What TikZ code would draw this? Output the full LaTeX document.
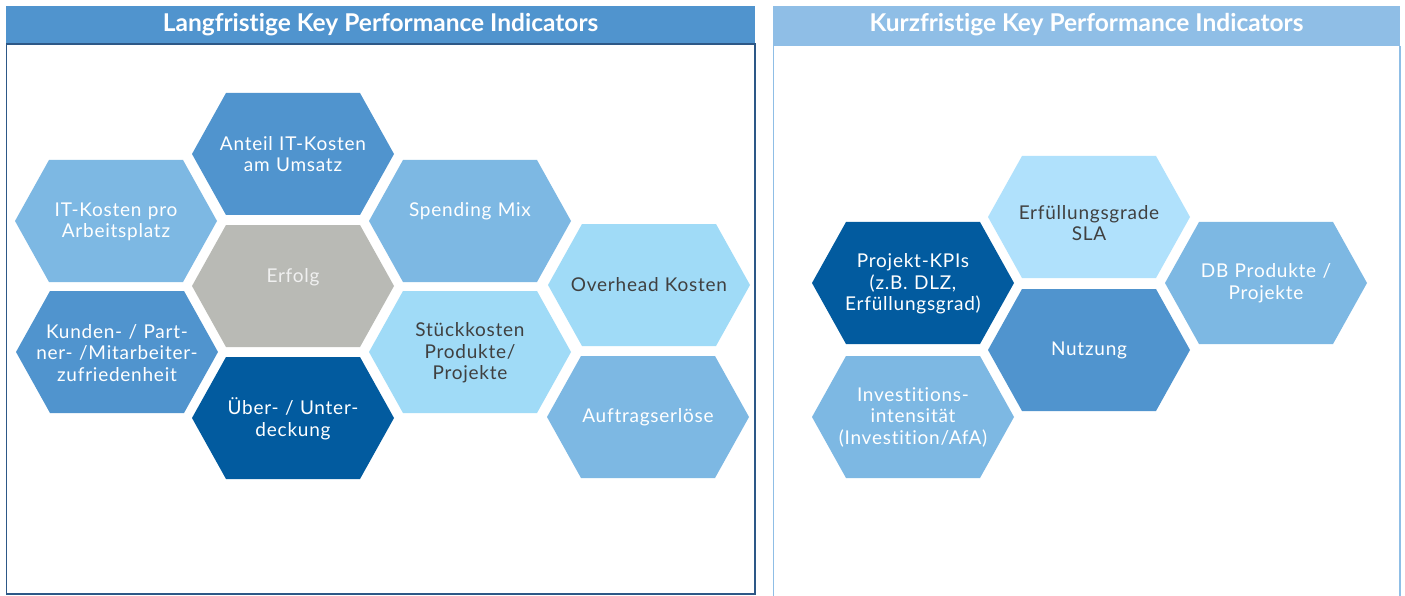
\documentclass[tikz,border=0pt]{standalone}
\usepackage{fontspec}
\setmainfont[Ligatures=NoCommon]{Lato}
\newfontfamily\hexfont[LetterSpace=4, Ligatures=NoCommon]{Lato}
\usepackage{tikz}

\definecolor{kpiBlue}{RGB}{80,148,206}
\definecolor{kpiSky}{RGB}{125,184,227}
\definecolor{kpiPale}{RGB}{160,219,247}
\definecolor{kpiIce}{RGB}{176,225,252}
\definecolor{kpiNavy}{RGB}{2,91,159}
\definecolor{kpiGrey}{RGB}{185,186,181}
\definecolor{kpiHead}{RGB}{143,190,230}
\definecolor{kpiFrame}{RGB}{45,88,135}
\definecolor{kpiText}{RGB}{64,64,64}

\tikzset{
    hexlabel/.style={align=center, text width=190pt, inner sep=0pt,
        font=\hexfont\fontsize{19}{21.5}\selectfont},
    onwhite/.style={hexlabel, text=white},
    ondark/.style={hexlabel, text=kpiText},
    headline/.style={text=white, font=\bfseries\fontsize{24.5}{28}\selectfont}
}

\begin{document}
\begin{tikzpicture}[x=1pt, y=-1pt]
    \useasboundingbox[fill=white] (0,0) rectangle (1405,596);
    % the two panels
    \fill[kpiBlue] (6,6) rectangle (755,44);
    \draw[kpiFrame, line width=1.2pt] (6.5,44) rectangle (755,594);
    \fill[kpiHead] (773,6) rectangle (1400,46);
    \draw[kpiHead, line width=1.5pt] (773.5,46) -- (773.5,600) (1400,46) -- (1400,600);
    \node[headline] (LT) at (380.5,25){Langfristige Key Performance Indicators};
    \node[headline] (KT) at (1086.5,25){Kurzfristige Key Performance Indicators};
    % honeycomb cells
    \foreach \x/\y/\c in {116/221/kpiSky, 293/154/kpiBlue, 293/286/kpiGrey, 470/221/kpiSky,
        649/285/kpiPale, 117/352/kpiBlue, 293/418/kpiNavy, 470/352/kpiPale, 648/417/kpiSky,
        913/283/kpiNavy, 1089/217/kpiIce, 1089/350/kpiBlue, 1266/283/kpiSky, 913/417/kpiSky}{
        \fill[\c] (\x-101,\y) -- (\x-67,\y-61) -- (\x+67,\y-61) -- (\x+101,\y)
            -- (\x+67,\y+61) -- (\x-67,\y+61) -- cycle;
    }
    \node (L1) at (116,222)[onwhite]{IT-Kosten pro\\Arbeitsplatz};
    \node (L2) at (293,154)[onwhite]{Anteil IT-Kosten\\am Umsatz};
    \node (L3) at (293,277)[onwhite, text=white!94!black]{Erfolg};
    \node (L4) at (470,211)[onwhite]{Spending Mix};
    \node (L5) at (649,285)[ondark]{Overhead Kosten};
    \node (L6) at (117,353)[onwhite]{Kunden- / Part-\\ner- /Mitarbeiter-\\zufriedenheit};
    \node (L7) at (293,419)[onwhite]{Über- / Unter-\\deckung};
    \node (L8) at (470,353)[ondark]{Stückkosten\\Produkte/\\Projekte};
    \node (L9) at (648,417)[onwhite]{Auftragserlöse};
    \node (K1) at (913,284)[onwhite]{Projekt-KPIs\\(z.B. DLZ,\\Erfüllungsgrad)};
    \node (K2) at (1089,223)[ondark]{Erfüllungsgrade\\SLA};
    \node (K3) at (1089,350)[onwhite]{Nutzung};
    \node (K4) at (1266,283)[onwhite]{DB Produkte /\\Projekte};
    \node (K5) at (913,417)[onwhite]{Investitions-\\intensität\\(Investition/AfA)};
\end{tikzpicture}
\end{document}
